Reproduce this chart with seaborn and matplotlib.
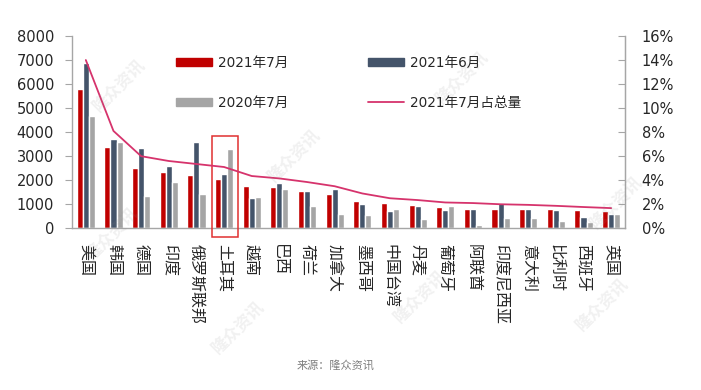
import matplotlib
matplotlib.use("Agg")
import matplotlib.pyplot as plt
import matplotlib.ticker as mticker
from matplotlib.patches import Patch, Rectangle
from matplotlib.lines import Line2D
import numpy as np
import pandas as pd
import seaborn as sns

# ── Data ───────────────────────────────────────────────────────────────────────
COUNTRIES = ["美国", "韩国", "德国", "印度", "俄罗斯联邦", "土耳其", "越南", "巴西",
             "荷兰", "加拿大", "墨西哥", "中国台湾", "丹麦", "葡萄牙", "阿联酋",
             "印度尼西亚", "意大利", "比利时", "西班牙", "英国"]
JUL_2021 = [5800, 3400, 2500, 2330, 2220, 2040, 1780, 1710, 1540, 1440,
            1150, 1040, 985, 875, 820, 820, 820, 820, 765, 710]
JUN_2021 = [6870, 3730, 3330, 2610, 3610, 2270, 1260, 1870, 1540, 1650,
            1000, 700, 930, 765, 820, 1050, 820, 765, 490, 600]
JUL_2020 = [4680, 3610, 1360, 1930, 1430, 3280, 1320, 1650, 930, 600,
            540, 820, 375, 930, 150, 415, 415, 320, 265, 600]
SHARE_JUL_2021 = [14.0, 8.1, 6.0, 5.6, 5.35, 5.1, 4.35, 4.15, 3.85, 3.5,
                  2.9, 2.5, 2.35, 2.15, 2.1, 2.0, 1.95, 1.87, 1.77, 1.68]
SERIES = ["2021年7月", "2021年6月", "2020年7月"]
LINE_LABEL = "2021年7月占总量"
HIGHLIGHT = "土耳其"

# ── Style ──────────────────────────────────────────────────────────────────────
RED = "#C00000"
SLATE = "#44546A"
GREY = "#A5A5A5"
PINK = "#D6336C"
AXIS = "#A6A6A6"
TEXT = "#262626"

sns.set_style("white")
plt.rcParams["font.family"] = ["DejaVu Sans", "Noto Sans CJK SC"]

df = pd.DataFrame({"country": COUNTRIES, SERIES[0]: JUL_2021,
                   SERIES[1]: JUN_2021, SERIES[2]: JUL_2020})
long_df = df.melt(id_vars="country", var_name="series", value_name="value")

fig = plt.figure(figsize=(7.01, 3.90), dpi=100)
ax = fig.add_axes([0.1027, 0.4146, 0.7889, 0.4931])

sns.barplot(data=long_df, x="country", y="value", hue="series",
            order=COUNTRIES, hue_order=SERIES,
            palette=[RED, SLATE, GREY], width=0.66, saturation=1,
            ax=ax, legend=False)

ax.set_xlim(-0.5, len(COUNTRIES) - 0.5)
ax.set_ylim(0, 8000)
ax.yaxis.set_major_locator(mticker.MultipleLocator(1000))
ax.set_xlabel("")
ax.set_ylabel("")

# category boundary ticks
ax.set_xticks(np.arange(-0.5, len(COUNTRIES), 1.0), minor=True)
ax.tick_params(axis="x", which="minor", length=5, color=AXIS, width=1, direction="out")
ax.tick_params(axis="x", which="major", length=0, pad=11)
ax.set_xticks(range(len(COUNTRIES)))
ax.set_xticklabels(COUNTRIES, rotation=270, fontsize=11.5, color=TEXT,
                   ha="center", va="top", family=["Noto Sans CJK SC", "DejaVu Sans"])
ax.tick_params(axis="y", length=5, color=AXIS, direction="out",
               labelsize=10.5, labelcolor=TEXT, pad=8)

for side in ["left", "bottom", "right"]:
    ax.spines[side].set_color(AXIS)
    ax.spines[side].set_linewidth(1)
ax.spines["top"].set_visible(False)

# ── Share line on the secondary axis ───────────────────────────────────────────
ax2 = ax.twinx()
sns.lineplot(x=np.arange(len(COUNTRIES)), y=SHARE_JUL_2021, color=PINK,
             linewidth=1.3, ax=ax2)
ax2.set_ylim(0, 16)
ax2.yaxis.set_major_locator(mticker.MultipleLocator(2))
ax2.yaxis.set_major_formatter(mticker.FuncFormatter(lambda v, _: f"{v:.0f}%"))
ax2.tick_params(axis="y", length=5, color=AXIS, direction="in",
                labelsize=10.5, labelcolor=TEXT, pad=12)
for side in ["left", "bottom", "top"]:
    ax2.spines[side].set_visible(False)
ax2.spines["right"].set_color(AXIS)
ax2.set_xlim(-0.5, len(COUNTRIES) - 0.5)

# ── Highlight box round Turkey ─────────────────────────────────────────────────
hi = COUNTRIES.index(HIGHLIGHT)
top = max(JUL_2021[hi], JUN_2021[hi], JUL_2020[hi]) * 1.175
ax.add_patch(Rectangle((hi - 0.42, -380), 0.94, top + 380, fill=False,
                       edgecolor="#E03030", linewidth=1.1, clip_on=False, zorder=5))

# ── Legend ─────────────────────────────────────────────────────────────────────
handles = [Patch(color=RED, label=SERIES[0]), Patch(color=GREY, label=SERIES[2]),
           Patch(color=SLATE, label=SERIES[1]),
           Line2D([], [], color=PINK, linewidth=1.3, label=LINE_LABEL)]
fig.legend(handles=handles, ncol=2, frameon=False, fontsize=9.8,
           loc="upper left", bbox_to_anchor=(0.234, 0.888),
           handlelength=2.6, handleheight=0.5, handletextpad=0.45,
           labelspacing=1.9, columnspacing=5.9, labelcolor=TEXT)

# ── Faint watermarks ───────────────────────────────────────────────────────────
for wx, wy in [(0.17, 0.78), (0.42, 0.60), (0.66, 0.80), (0.88, 0.48),
               (0.16, 0.40), (0.60, 0.24), (0.34, 0.16), (0.86, 0.22)]:
    fig.text(wx, wy, "隆众资讯", rotation=45, fontsize=12, color="#909090",
             alpha=0.13, fontweight="bold", ha="center", va="center",
             family=["Noto Sans CJK SC"])

fig.text(0.478, 0.062, "来源：隆众资讯", fontsize=8, color="#7F7F7F",
         ha="center", va="center", family=["Noto Sans CJK SC"])

fig.savefig("out.png", dpi=100)
